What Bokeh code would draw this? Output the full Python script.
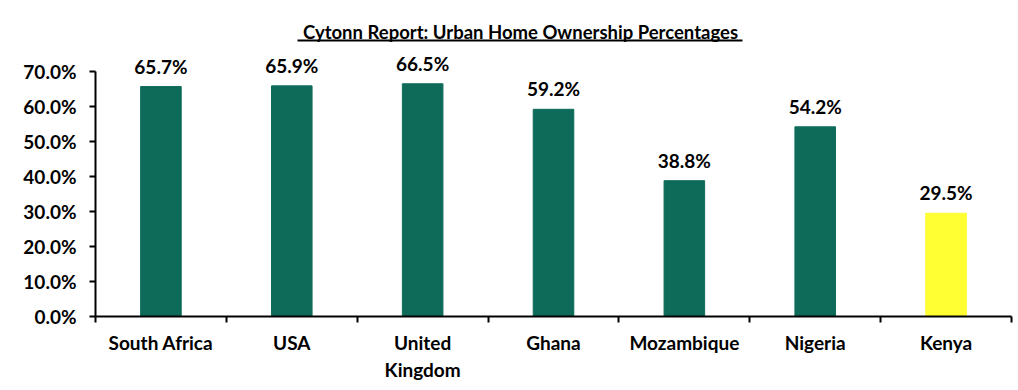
from bokeh.plotting import figure
from bokeh.models import (ColumnDataSource, FixedTicker, NumeralTickFormatter, Range1d,
                          BoxAnnotation, LabelSet, Label)
from bokeh.core.properties import value
from bokeh.embed import file_html
from bokeh.resources import INLINE

title_text = "Cytonn Report: Urban Home Ownership Percentages"
countries = ["South Africa", "USA", "United\nKingdom", "Ghana", "Mozambique", "Nigeria", "Kenya"]
ownership = [0.657, 0.659, 0.665, 0.592, 0.388, 0.542, 0.295]
bar_colors = ["#0e6b5a"] * 6 + ["#ffff33"]
y_ticks = [0.0, 0.1, 0.2, 0.3, 0.4, 0.5, 0.6, 0.7]

FONT = "Lato"
FS = "19px"
W, H = 1016, 388
FRAME_LEFT, FRAME_BOTTOM_PX, AXIS_TOP_PX = 95, 316, 71
xs = list(range(len(countries)))
labels = [f"{v*100:.1f}%" for v in ownership]
src = ColumnDataSource(dict(x=xs, y=ownership, color=bar_colors, label=labels))

y_max = y_ticks[-1]
y_end = y_max * FRAME_BOTTOM_PX / (FRAME_BOTTOM_PX - AXIS_TOP_PX)

p = figure(width=W, height=H, output_backend="svg", toolbar_location=None,
           x_range=Range1d(-0.5, len(countries) - 0.5), y_range=Range1d(0, y_end),
           min_border_left=FRAME_LEFT, min_border_right=5, min_border_top=0,
           min_border_bottom=H - FRAME_BOTTOM_PX)

p.vbar(x="x", top="y", width=0.31, color="color", source=src)
p.add_layout(LabelSet(x="x", y="y", text="label", source=src, text_align="center",
                      text_baseline="bottom", y_offset=9, text_font=value(FONT),
                      text_font_size=value(FS), text_font_style="bold", text_color="black"))

p.add_layout(Label(x=520, y=31, x_units="canvas", y_units="canvas", text=title_text,
                   text_align="center", text_baseline="middle", text_font=FONT,
                   text_font_size="18.5px", text_font_style="bold", text_color="black"))
p.add_layout(BoxAnnotation(left=297, right=742, top=39, bottom=41,
                           left_units="canvas", right_units="canvas",
                           top_units="canvas", bottom_units="canvas",
                           fill_color="black", fill_alpha=1, line_color=None))

p.grid.visible = False
p.outline_line_color = None
p.background_fill_color = "white"

xa = p.xaxis[0]
xa.ticker = FixedTicker(ticks=xs, minor_ticks=[i - 0.5 for i in range(len(countries) + 1)])
xa.major_label_overrides = {i: c for i, c in enumerate(countries)}
xa.major_tick_line_color = None
xa.major_tick_out = 0
xa.major_tick_in = 0
xa.minor_tick_out = 6
xa.minor_tick_in = 0
xa.minor_tick_line_color = "black"
xa.minor_tick_line_width = 2
xa.axis_line_width = 2
xa.axis_line_color = "black"
xa.major_label_standoff = 8
xa.major_label_text_font = FONT
xa.major_label_text_font_size = FS
xa.major_label_text_font_style = "bold"
xa.major_label_text_color = "black"

ya = p.yaxis[0]
ya.bounds = (0, y_max)
ya.ticker = FixedTicker(ticks=y_ticks, minor_ticks=[])
ya.formatter = NumeralTickFormatter(format="0.0%")
ya.major_tick_out = 6
ya.major_tick_in = 0
ya.major_tick_line_width = 2
ya.axis_line_width = 2
ya.major_label_standoff = 13
ya.major_label_text_font = FONT
ya.major_label_text_font_size = FS
ya.major_label_text_font_style = "bold"
ya.major_label_text_color = "black"

open("out.html", "w").write(file_html(p, INLINE))
